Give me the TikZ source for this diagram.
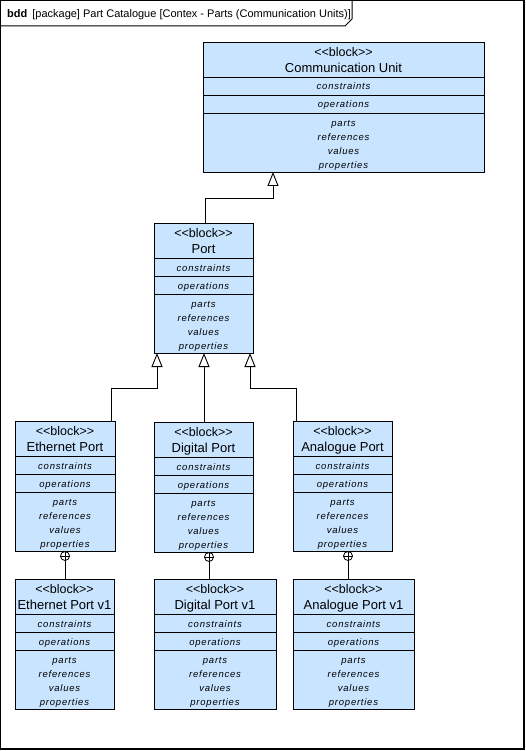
\documentclass[tikz,border=0pt]{standalone}
\usepackage{fontspec}
\setmainfont{Liberation Sans}
\newfontfamily\compfont{Liberation Sans}[LetterSpace=8]
\usetikzlibrary{arrows.meta,calc}
\definecolor{blockfill}{RGB}{200,228,255}
\tikzset{
  blockbox/.style={draw, fill=blockfill, line width=0.9pt, inner sep=0pt, outer sep=0pt, minimum height=130pt, anchor=north west},
  stereo/.style={font=\fontsize{12.5}{14}\selectfont, inner sep=0pt, text height=9pt, text depth=2pt},
  bname/.style={font=\fontsize{13}{15}\selectfont, inner sep=0pt, text height=9.5pt, text depth=3pt},
  comptext/.style={font=\compfont\itshape\fontsize{9.5}{11}\selectfont, inner sep=0pt, text height=7pt, text depth=2pt},
  conn/.style={line width=0.9pt},
  gen/.style={conn, -{Triangle[open, length=14pt, width=11pt]}},
  compo/.style={circle, draw, fill=white, line width=0.8pt, inner sep=0pt, minimum size=9pt},
  hdrtext/.style={font=\fontsize{11}{13}\selectfont, inner sep=0pt, anchor=base west},
}
\newcommand\umlblock[5]{%
  \node[blockbox, minimum width=#4pt] (#1) at (#2,#3) {};
  \node[stereo] (#1-st) at ($(#1.north)+(0,11)$) {<\kern0pt<block>\kern0pt>};
  \node[bname] (#1-nm) at ($(#1.north)+(0,27)$) {#5};
  \draw[conn] ($(#1.north west)+(0,35)$) -- ($(#1.north east)+(0,35)$);
  \draw[conn] ($(#1.north west)+(0,53)$) -- ($(#1.north east)+(0,53)$);
  \draw[conn] ($(#1.north west)+(0,71)$) -- ($(#1.north east)+(0,71)$);
  \node[comptext] (#1-c) at ($(#1.north)+(0,45.5)$) {constraints};
  \node[comptext] (#1-o) at ($(#1.north)+(0,63.5)$) {operations};
  \node[comptext] (#1-p) at ($(#1.north)+(0,82)$) {parts};
  \node[comptext] (#1-r) at ($(#1.north)+(0,96)$) {references};
  \node[comptext] (#1-v) at ($(#1.north)+(0,110)$) {values};
  \node[comptext] (#1-q) at ($(#1.north)+(0,124)$) {properties};
}
\begin{document}
\begin{tikzpicture}[x=1pt, y=-1pt]
  \useasboundingbox (0,0) rectangle (526,751);
  % frame
  \draw[line width=1.2pt] (0.8,0.8) rectangle (524,749);
  \draw[line width=1pt] (0.8,26) -- (345,26) -- (352,19) -- (352,0.8);
  \node[hdrtext] (hdr) at (7,18) {\textbf{bdd}\hspace{5pt}[package] Part Catalogue [Contex - Parts (Communication Units)]};

  \umlblock{cu}{203}{42}{281}{Communication Unit}
  \umlblock{port}{154}{223}{99}{Port}
  \umlblock{eth}{15}{421}{100}{Ethernet Port}
  \umlblock{dig}{154}{422}{99}{Digital Port}
  \umlblock{ana}{293}{421}{99}{Analogue Port}
  \umlblock{ethv}{15}{579}{99}{Ethernet Port v1}
  \umlblock{digv}{154}{579}{122}{Digital Port v1}
  \umlblock{anav}{293}{579}{121}{Analogue Port v1}

  % generalizations
  \coordinate (cuA) at ($(cu.south west)+(70,0)$);
  \coordinate (pA) at ($(port.north west)+(51,0)$);
  \draw[gen] (pA) |- ($(cuA)+(0,26)$) -- (cuA);

  \coordinate (pL) at ($(port.south west)+(3,0)$);
  \coordinate (pM) at ($(port.south west)+(50,0)$);
  \coordinate (pR) at ($(port.south west)+(96,0)$);
  \coordinate (eA) at ($(eth.north west)+(96,0)$);
  \coordinate (aA) at ($(ana.north west)+(3,0)$);
  \draw[gen] (eA) |- ($(pL)+(0,35)$) -- (pL);
  \draw[gen] (dig.north -| pM) -- (pM);
  \draw[gen] (aA) |- ($(pR)+(0,35)$) -- (pR);

  % compositions
  \node[compo] (ce) at ($(eth.south west)+(50,5)$) {};
  \node[compo] (cd) at ($(dig.south west)+(55,5)$) {};
  \node[compo] (ca) at ($(ana.south west)+(55,5)$) {};
  \foreach \c/\t in {ce/ethv, cd/digv, ca/anav}{
    \draw[line width=0.8pt] (\c.north) -- (\c.south) (\c.west) -- (\c.east);
    \draw[conn] (\c.south) -- (\c.south |- \t.north);
  }
\end{tikzpicture}
\end{document}
